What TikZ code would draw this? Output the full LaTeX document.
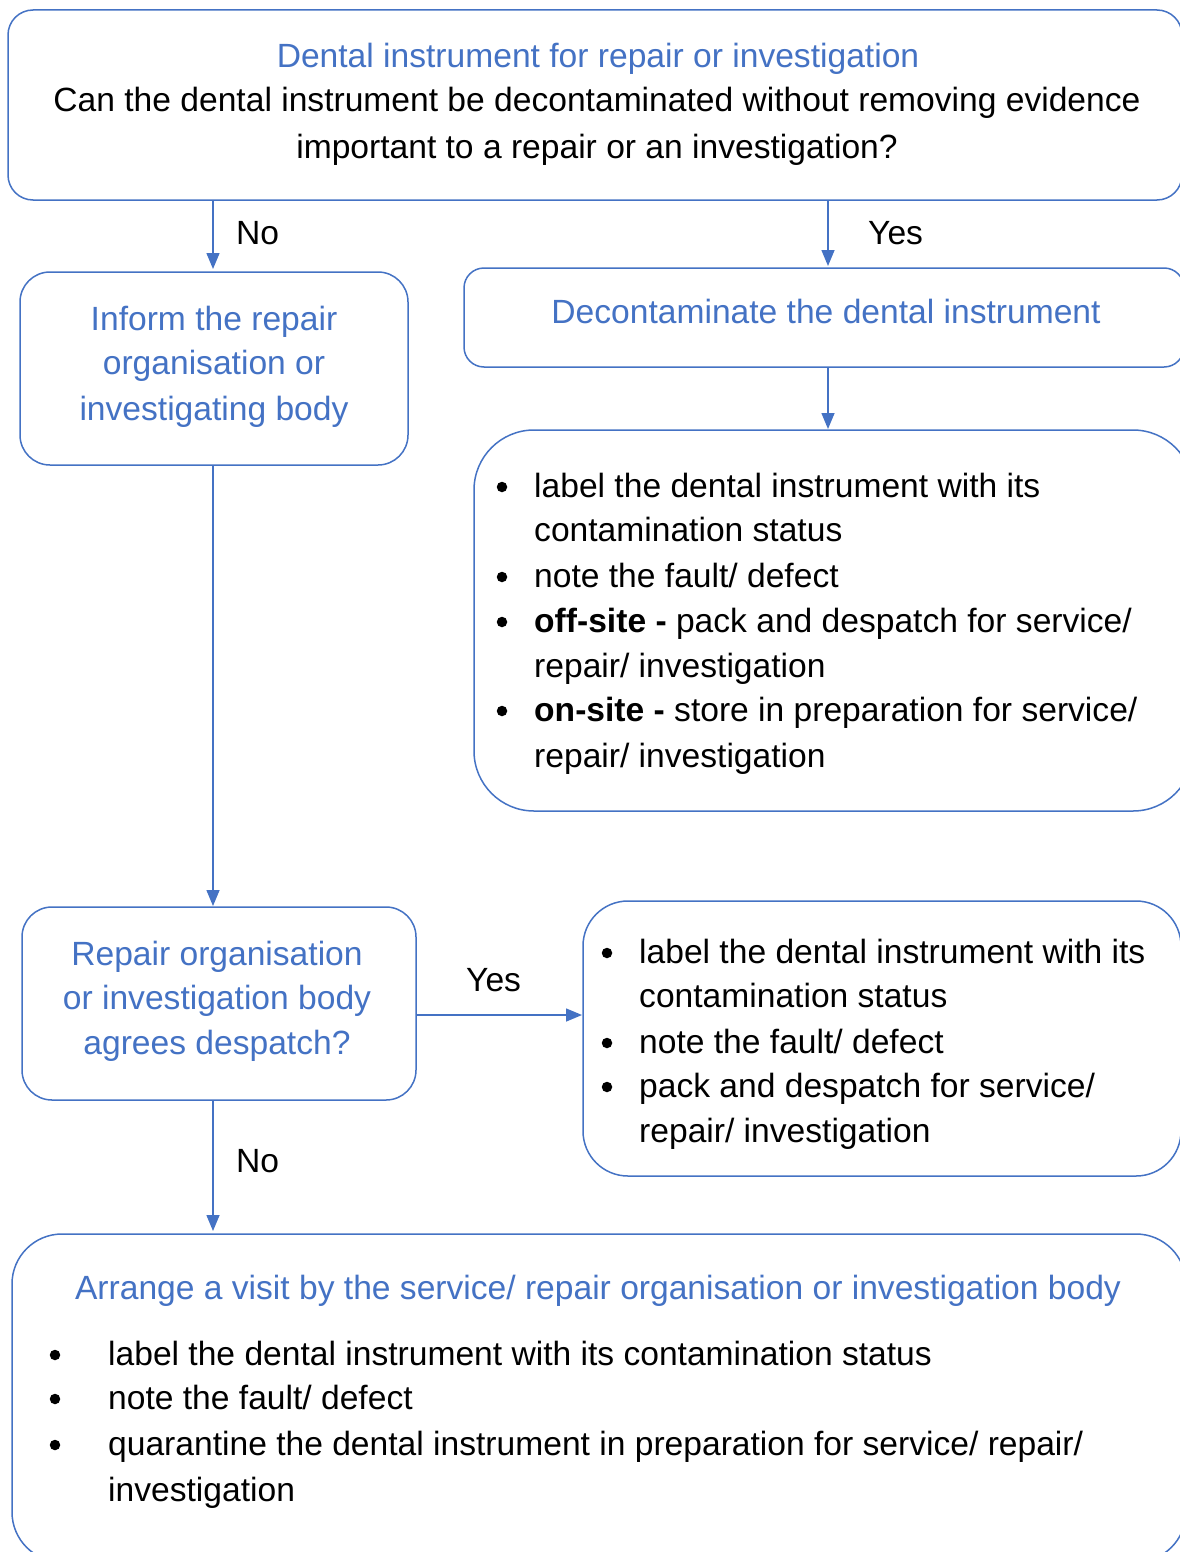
\documentclass[tikz,border=0pt]{standalone}
\usepackage{fontspec}
\setmainfont{Liberation Sans}
\usetikzlibrary{arrows.meta}
\definecolor{mblue}{RGB}{68,114,196}
\newcommand{\myfs}{\fontsize{33.6}{40}\selectfont}
\tikzset{
  box/.style={draw=mblue, line width=1.5pt, inner sep=0pt, outer sep=0pt},
  arr/.style={draw=mblue, line width=1.5pt, -{Triangle[length=16pt,width=13pt]}},
  lt/.style={inner sep=0pt, anchor=base west, font=\myfs},
  ct/.style={inner sep=0pt, anchor=base, font=\myfs},
  bt/.style={ct, text=mblue},
  bul/.style={circle, fill=black, draw=none, inner sep=0pt, minimum size=10.5pt, yshift=10pt}
}
\begin{document}
\begin{tikzpicture}[x=1pt,y=-1pt]
\useasboundingbox (0,0) rectangle (1180,1552);
\clip (0,0) rectangle (1180,1552);
\fill[white] (0,0) rectangle (1180,1552);
% boxes
\node[box, rounded corners=25pt, minimum width=1174pt, minimum height=190pt] (top) at (595,105) {};
\node[box, rounded corners=30pt, minimum width=388pt, minimum height=193pt] (inform) at (214,368.5) {};
\node[box, rounded corners=20pt, minimum width=720pt, minimum height=99pt] (dec) at (824,317.5) {};
\node[box, rounded corners=60pt, minimum width=719pt, minimum height=381pt] (b1) at (833.5,620.5) {};
\node[box, rounded corners=30pt, minimum width=394pt, minimum height=193pt] (repair) at (219,1003.5) {};
\node[box, rounded corners=45pt, minimum width=598pt, minimum height=275pt] (b2) at (882,1038.5) {};
\node[box, rounded corners=50pt, minimum width=1174pt, minimum height=328pt] (bottom) at (599,1398) {};
% connector guides
\coordinate (xno) at (213,0);
\coordinate (xyes) at (828,0);
\coordinate (yyes) at (0,1015);
\draw[arr, shorten >=3pt] (top.south -| xno) -- (inform.north -| xno);
\draw[arr, shorten >=2pt] (top.south -| xyes) -- (dec.north -| xyes);
\draw[arr, shorten >=1pt] (dec.south -| xyes) -- (b1.north -| xyes);
\draw[arr, shorten >=1pt] (inform.south -| xno) -- (repair.north -| xno);
\draw[arr, shorten >=1pt] (repair.east |- yyes) -- (b2.west |- yyes);
\draw[arr, shorten >=3pt] (repair.south -| xno) -- (bottom.north -| xno);
% labels
\node[lt] (lno1) at (236,244) {No};
\node[lt] (lyes1) at (868,244) {Yes};
\node[lt] (lyes2) at (466,991) {Yes};
\node[lt] (lno2) at (236,1172) {No};
% top box text
\node[bt] (t1) at (598,68) {Dental instrument for repair or investigation};
\node[ct] (t2) at (597,112) {Can the dental instrument be decontaminated without removing evidence};
\node[ct] (t3) at (597,158) {important to a repair or an investigation?};
% inform
\node[bt] (i1) at (214,330) {Inform the repair};
\node[bt] (i2) at (214,374) {organisation or};
\node[bt] (i3) at (214,420) {investigating body};
% decontaminate
\node[bt] (d1) at (826,323) {Decontaminate the dental instrument};
% bullet box 1
\node[bul] (p1) at (502,497) {};
\node[lt] (a1) at (534,497) {label the dental instrument with its};
\node[lt] (a2) at (534,541) {contamination status};
\node[bul] (p2) at (502,587) {};
\node[lt] (a3) at (534,587) {note the fault/ defect};
\node[bul] (p3) at (502,632) {};
\node[lt] (a4) at (534,632) {\textbf{off-site -} pack and despatch for service/};
\node[lt] (a5) at (534,677) {repair/ investigation};
\node[bul] (p4) at (502,721) {};
\node[lt] (a6) at (534,721) {\textbf{on-site -} store in preparation for service/};
\node[lt] (a7) at (534,767) {repair/ investigation};
% repair
\node[bt] (r1) at (217,965) {Repair organisation};
\node[bt] (r2) at (217,1009) {or investigation body};
\node[bt] (r3) at (217,1054) {agrees despatch?};
% bullet box 2
\node[bul] (q1) at (607,963) {};
\node[lt] (c1) at (639,963) {label the dental instrument with its};
\node[lt] (c2) at (639,1007) {contamination status};
\node[bul] (q2) at (607,1053) {};
\node[lt] (c3) at (639,1053) {note the fault/ defect};
\node[bul] (q3) at (607,1097) {};
\node[lt] (c4) at (639,1097) {pack and despatch for service/};
\node[lt] (c5) at (639,1142) {repair/ investigation};
% bottom
\node[bt] (e1) at (598,1299) {Arrange a visit by the service/ repair organisation or investigation body};
\node[bul] (s1) at (55,1365) {};
\node[lt] (f1) at (108,1365) {label the dental instrument with its contamination status};
\node[bul] (s2) at (55,1409) {};
\node[lt] (f2) at (108,1409) {note the fault/ defect};
\node[bul] (s3) at (55,1455) {};
\node[lt] (f3) at (108,1455) {quarantine the dental instrument in preparation for service/ repair/};
\node[lt] (f4) at (108,1501) {investigation};
\end{tikzpicture}
\end{document}
